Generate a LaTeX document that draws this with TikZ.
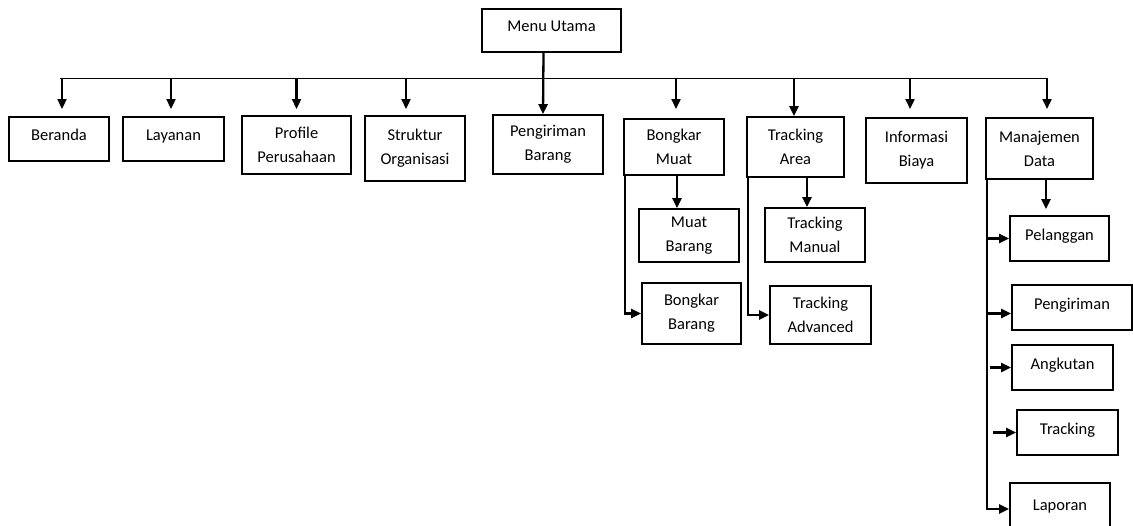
\documentclass[tikz,border=0pt]{standalone}
\usepackage{fontspec}
\setmainfont{Carlito}
\usetikzlibrary{arrows.meta}

\begin{document}
\begin{tikzpicture}[x=1pt,y=-1pt,>={Triangle[length=10pt,width=9pt]},
    box/.style={draw,line width=1.7pt,inner sep=0pt,align=center,
      font=\fontsize{16.5}{24}\selectfont},
    single/.style={box,text depth=8pt},
    link/.style={line width=2.3pt}]
        \useasboundingbox (0,0) rectangle (1133,525);
        % Nodes
        \node[single, minimum width=139, minimum height=43] (menu) at (551.5,30.5) {Menu Utama};
        \node[single, minimum width=100, minimum height=44] (beranda) at (59,139) {Beranda};
        \node[single, minimum width=101, minimum height=44] (layanan) at (173.5,139) {Layanan};
        \node[box, minimum width=109, minimum height=58] (profil) at (296.5,145) {Profile\\Perusahaan};
        \node[box, minimum width=100, minimum height=65] (struktur) at (415,148.5) {Struktur\\Organisasi};
        \node[box, minimum width=110, minimum height=59] (pengiriman) at (548,144.5) {Pengiriman\\Barang};
        \node[box, minimum width=100, minimum height=56] (bongkar) at (674,147) {Bongkar\\Muat};
        \node[box, minimum width=97, minimum height=60] (tracking) at (795.5,147) {Tracking\\Area};
        \node[box, minimum width=101, minimum height=65] (info) at (916.5,150.5) {Informasi\\Biaya};
        \node[box, minimum width=107, minimum height=61] (manajemen) at (1039.5,148.5) {Manajemen\\Data};
        \node[box, minimum width=100, minimum height=53] (muat) at (689,235.5) {Muat\\Barang};
        \node[box, minimum width=99, minimum height=61] (bongkarbrg) at (691.5,313.5) {Bongkar\\Barang};
        \node[box, minimum width=100, minimum height=54] (trmanual) at (815,235) {Tracking\\Manual};
        \node[box, minimum width=101, minimum height=58] (tradvanced) at (820.5,315) {Tracking\\Advanced};
        \node[single, minimum width=99, minimum height=45] (pelanggan) at (1059.5,238.5) {Pelanggan};
        \node[single, minimum width=120, minimum height=45] (kirim) at (1072,307.5) {Pengiriman};
        \node[single, minimum width=101, minimum height=45] (angkutan) at (1062.5,367.5) {Angkutan};
        \node[single, minimum width=101, minimum height=45] (track) at (1067.5,432.5) {Tracking};
        \node[single, minimum width=100, minimum height=52] (laporan) at (1060,509) {Laporan};
        \coordinate (bus) at (0,78);
        \coordinate (tip) at (0,109);
        \coordinate (busL) at (60,78);
        \coordinate (busR) at (1047,78);
        % Arrows
        \draw[line width=1pt] (busL) -- (busR);
        \draw[link,->] ([xshift=-8pt]menu.south) -- ([xshift=-5pt]pengiriman.north);
        \draw[link,->] ([xshift=3pt]beranda.north |- bus) -- ([xshift=3pt]beranda.north |- tip);
        \draw[link,->] ([xshift=-2.5pt]layanan.north |- bus) -- ([xshift=-2.5pt]layanan.north |- tip);
        \draw[link,->] (profil.north |- bus) -- (profil.north |- tip);
        \draw[link,->] ([xshift=-9pt]struktur.north |- bus) -- ([xshift=-9pt]struktur.north |- tip);
        \draw[link,->] ([xshift=2pt]bongkar.north |- bus) -- ([xshift=2pt]bongkar.north |- tip);
        \draw[link,->] ([xshift=-1.5pt]tracking.north |- bus) -- ([xshift=-1.5pt]tracking.north);
        \draw[link,->] ([xshift=-6.5pt]info.north |- bus) -- ([xshift=-6.5pt]info.north |- tip);
        \draw[link,->] (busR) -- (busR |- tip);
        % Bongkar Muat
        \draw[link,->] ([xshift=3pt]bongkar.south) -- ([xshift=3pt]bongkar.south |- muat.north);
        \draw[link,->] ([xshift=2pt]bongkar.south west) |- (bongkarbrg.west);
        % Tracking Area
        \draw[link,->] ([xshift=11.5pt]tracking.south) -- ([xshift=11.5pt]tracking.south |- trmanual.north);
        \draw[link,->] ([xshift=2pt]tracking.south west) |- (tradvanced.west);
        % Manajemen Data
        \coordinate (mline) at ([xshift=2pt]manajemen.south west);
        \draw[link,->] ([xshift=6.5pt]manajemen.south) -- ([xshift=6.5pt,yshift=6pt]manajemen.south |- pelanggan.north);
        \draw[link,->] (mline) |- (laporan.west);
        \draw[link,->] (mline |- pelanggan.west) -- (pelanggan.west);
        \draw[link,->] ([yshift=-6pt]mline |- kirim.west) -- ([yshift=-6pt]kirim.west);
        \draw[link,->] ([xshift=3pt]mline |- angkutan.west) -- (angkutan.west);
        \draw[link,->] ([xshift=6pt]mline |- track.west) -- (track.west);

    \end{tikzpicture}
\end{document}
